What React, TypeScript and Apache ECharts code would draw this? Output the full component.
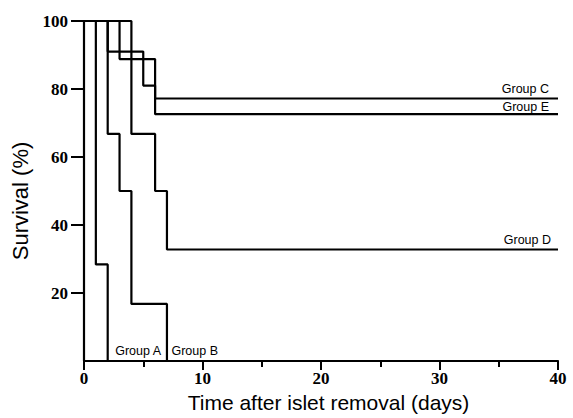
import React, { useEffect, useRef } from "react";
import * as echarts from "echarts";

// Kaplan–Meier step curves: times (days) at which survival changes, and survival (%)
const groupNames = ["Group A", "Group B", "Group C", "Group D", "Group E"];
const groupATimes = [0, 1, 2];
const groupASurvival = [100, 28.4, 0];
const groupBTimes = [0, 2, 3, 4, 7];
const groupBSurvival = [100, 66.8, 50, 16.8, 0];
const groupCTimes = [0, 3, 6, 40];
const groupCSurvival = [100, 88.8, 77.2, 77.2];
const groupDTimes = [0, 4, 6, 7, 40];
const groupDSurvival = [100, 66.8, 50, 32.8, 32.8];
const groupETimes = [0, 2, 5, 6, 40];
const groupESurvival = [100, 91, 81, 72.6, 72.6];

const xTicks = [0, 10, 20, 30, 40];
const yTicks = [20, 40, 60, 80, 100];

const allTimes = [groupATimes, groupBTimes, groupCTimes, groupDTimes, groupETimes];
const allSurv = [groupASurvival, groupBSurvival, groupCSurvival, groupDSurvival, groupESurvival];

// label placement styles per group (relative to the final point of each curve)
const labelStyles: any[] = [
  { position: "right", distance: 7, offset: [0, -10] },
  { position: "right", distance: 4, offset: [0, -10] },
  { position: "top", align: "right", distance: 3, offset: [-9, 0] },
  { position: "top", align: "right", distance: 2.5, offset: [-7, 0] },
  { position: "top", align: "right", distance: 0.5, offset: [-9, 0] },
];

export default function App() {
  const ref = useRef<HTMLDivElement>(null);
  useEffect(() => {
    if (!ref.current) return;
    const chart = echarts.init(ref.current, null, { renderer: "svg" });
    const series = groupNames.map((name, i) => {
      const t = allTimes[i];
      const s = allSurv[i];
      const data = t.map((x, j) => [x, s[j]]);
      const last = data[data.length - 1];
      return {
        name,
        type: "line",
        step: "end",
        showSymbol: false,
        clip: false,
        data,
        lineStyle: { color: "#000", width: 2.2 },
        itemStyle: { color: "#000" },
        markPoint: {
          symbol: "circle",
          symbolSize: 1,
          itemStyle: { color: "rgba(0,0,0,0)" },
          data: [{ coord: last }],
          label: {
            show: true,
            formatter: name,
            color: "#000",
            fontFamily: "Liberation Sans, Arial, sans-serif",
            fontSize: 12.5,
            lineHeight: 13,
            ...labelStyles[i],
          },
        },
      };
    });
    chart.setOption({
      animation: false,
      backgroundColor: "#fff",
      grid: { left: 84, right: 15, top: 21, bottom: 54 },
      xAxis: {
        type: "value",
        min: 0,
        max: 40,
        interval: 10,
        name: "Time after islet removal (days)",
        nameLocation: "middle",
        nameGap: 31,
        nameTextStyle: {
          color: "#000",
          fontFamily: "Liberation Sans, Arial, sans-serif",
          fontSize: 21,
          padding: [0, 0, 0, 15],
        },
        axisLine: { show: true, lineStyle: { color: "#000", width: 2.2 } },
        axisTick: { show: true, length: 9, lineStyle: { color: "#000", width: 2 }, customValues: xTicks },
        minorTick: { show: true, splitNumber: 2, length: 6, lineStyle: { color: "#000", width: 2 } },
        axisLabel: {
          color: "#000",
          fontFamily: "Liberation Serif, Times New Roman, serif",
          fontWeight: "bold",
          fontSize: 17,
          margin: 9,
          customValues: xTicks,
        },
        splitLine: { show: false },
      },
      yAxis: {
        type: "value",
        min: 0,
        max: 100,
        interval: 20,
        name: "Survival (%)",
        nameLocation: "middle",
        nameGap: 47,
        nameTextStyle: {
          color: "#000",
          fontFamily: "Liberation Sans, Arial, sans-serif",
          fontSize: 22,
          padding: [0, 20, 0, 0],
        },
        axisLine: { show: true, lineStyle: { color: "#000", width: 2.2 } },
        axisTick: { show: true, length: 13, lineStyle: { color: "#000", width: 2 }, customValues: yTicks },
        axisLabel: {
          color: "#000",
          fontFamily: "Liberation Serif, Times New Roman, serif",
          fontWeight: "bold",
          fontSize: 17,
          margin: 16,
          customValues: yTicks,
        },
        splitLine: { show: false },
      },
      series,
    });
    return () => chart.dispose();
  }, []);
  return (
    <div
      ref={ref}
      style={{ position: "fixed", left: 0, top: 0, width: 573, height: 418, background: "#fff" }}
    />
  );
}
